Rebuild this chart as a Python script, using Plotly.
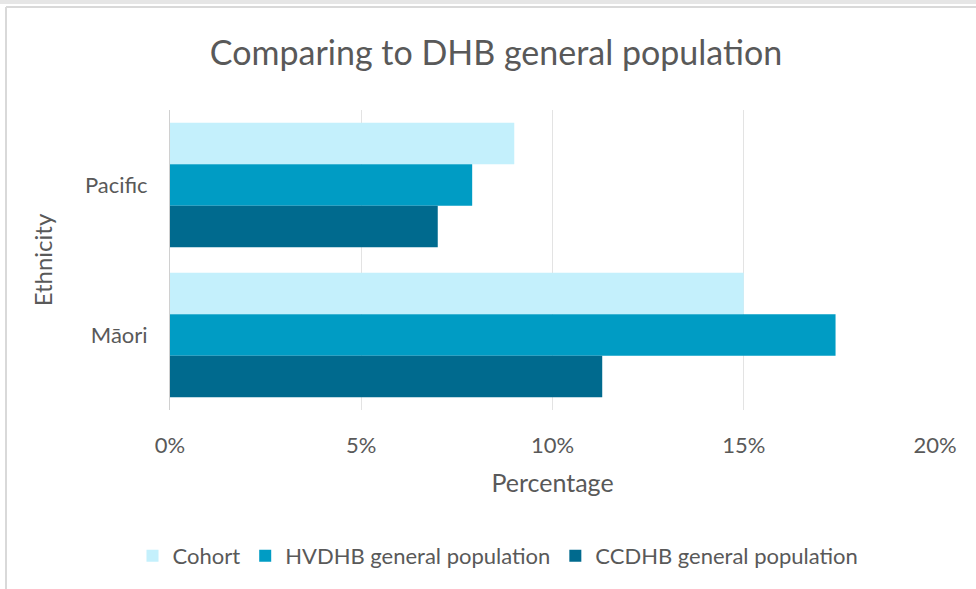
import plotly.graph_objects as go

categories = ["Pacific", "Māori"]
series_names = ["Cohort", "HVDHB general population", "CCDHB general population"]
cohort = [0.090, 0.150]
hvdhb = [0.079, 0.174]
ccdhb = [0.070, 0.113]
tick_vals = [0, 0.05, 0.10, 0.15, 0.20]
tick_text = ["0%", "5%", "10%", "15%", "20%"]

colors = ["#C4F0FC", "#009CC4", "#006A8E"]
FONT = "Lato"
GRAY = "#595959"

fig = go.Figure()
for name, vals, col in zip(series_names, [cohort, hvdhb, ccdhb], colors):
    fig.add_trace(go.Bar(
        y=categories, x=vals, name=name, orientation="h",
        marker=dict(color=col, line=dict(width=0)),
    ))

W, H = 976, 589
L, R, T, B = 170, 41, 110, 179
pw, ph = W - L - R, H - T - B

def px(x):
    return (x - L) / pw

def py(y):
    return (H - B - y) / ph

shapes = [
    dict(type="rect", xref="paper", yref="paper", x0=px(0), x1=px(W), y0=py(0), y1=py(4),
         fillcolor="#E6E6E6", line=dict(width=0), layer="below"),
    dict(type="line", xref="paper", yref="paper", x0=px(6), x1=px(W), y0=py(7), y1=py(7),
         line=dict(color="#D9D9D9", width=2)),
    dict(type="line", xref="paper", yref="paper", x0=px(6), x1=px(6), y0=py(7), y1=py(H),
         line=dict(color="#D9D9D9", width=2)),
]

fig.update_layout(
    width=W, height=H,
    margin=dict(l=L, r=R, t=T, b=B),
    paper_bgcolor="white", plot_bgcolor="white",
    barmode="group", bargap=0.17, bargroupgap=0,
    font=dict(family=FONT, color=GRAY, size=22),
    title=dict(text="Comparing to DHB general population", x=496 / W, xanchor="center",
               xref="container", y=1 - 53 / H, yanchor="middle",
               font=dict(family=FONT, size=34, color=GRAY)),
    xaxis=dict(range=[0, 0.2], tickvals=tick_vals, ticktext=tick_text,
               showgrid=True, gridcolor="#E3E3E3", gridwidth=1, zeroline=False,
               showline=False, ticks="", ticklabelstandoff=20,
               tickfont=dict(size=22, color=GRAY),
               title=dict(text="Percentage", font=dict(size=25, color=GRAY), standoff=17),
               fixedrange=True),
    yaxis=dict(autorange="reversed", showgrid=False, zeroline=False,
               showline=True, linecolor="#D0D0D0", linewidth=1, ticks="",
               ticklabelstandoff=17,
               tickfont=dict(size=22, color=GRAY),
               title=dict(text="Ethnicity", font=dict(size=24, color=GRAY), standoff=25),
               fixedrange=True),
    legend=dict(orientation="h", x=px(498), xanchor="center", y=py(556), yanchor="middle",
                font=dict(size=22, color=GRAY), itemwidth=30, traceorder="normal"),
    shapes=shapes,
    showlegend=True,
)

fig.write_html("out.html", config={"displayModeBar": False},
               post_script="document.body.style.margin='0';")
